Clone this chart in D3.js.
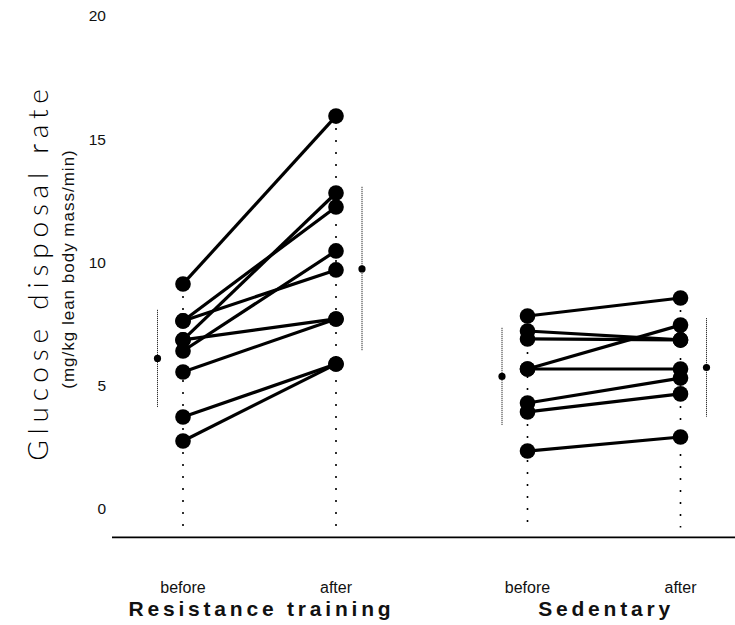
<!DOCTYPE html>
<html>
<head>
<meta charset="utf-8">
<script src="https://cdn.jsdelivr.net/npm/d3@7"></script>
<style>
  html, body { margin: 0; padding: 0; background: #fff; }
  svg { display: block; }
</style>
</head>
<body>
<svg id="chart" width="735" height="625"></svg>
<script>
// Glucose disposal rate, paired before/after measurements per subject
const groups = ["Resistance training", "Sedentary"];
const phases = ["before", "after"];
const yTicks = [0, 5, 10, 15, 20];

const rtBefore  = [9.13, 7.63, 7.63, 6.86, 6.86, 6.41, 5.56, 3.73, 2.76];
const rtAfter   = [15.94, 12.25, 9.70, 7.71, 12.82, 10.47, 7.71, 5.88, 5.88];
const sedBefore = [7.83, 7.22, 6.90, 5.68, 5.68, 4.30, 3.94, 2.35];
const sedAfter  = [8.56, 6.86, 6.86, 7.46, 5.68, 5.31, 4.67, 2.92];

// group mean and standard deviation, [before, after]
const rtMean  = [6.11, 9.74];
const rtSd    = [1.97, 3.33];
const sedMean = [5.38, 5.74];
const sedSd   = [1.97, 2.00];

const svg = d3.select("#chart");

const y = d3.scaleLinear().domain([0, 20]).range([509, 16]);
const xGroup = d3.scalePoint().domain(groups).range([259.5, 604]);
const xPhase = d3.scalePoint().domain(phases).range([-76.5, 76.5]);
const xPos = (g, p) => xGroup(g) + xPhase(p);

const sans = "'Liberation Sans', Arial, sans-serif";

const series = [
  { group: groups[0], before: rtBefore, after: rtAfter, mean: rtMean, sd: rtSd },
  { group: groups[1], before: sedBefore, after: sedAfter, mean: sedMean, sd: sedSd }
];

// y axis: labels only
const yAxis = svg.append("g")
  .attr("transform", "translate(106,0)")
  .call(d3.axisLeft(y).tickValues(yTicks).tickSize(0).tickPadding(0));
yAxis.select(".domain").remove();
yAxis.selectAll("text")
  .attr("font-family", sans)
  .attr("font-size", 15.5)
  .attr("fill", "#111");

// baseline
svg.append("line")
  .attr("x1", 112).attr("x2", 735)
  .attr("y1", y(-1.15)).attr("y2", y(-1.15))
  .attr("stroke", "#000").attr("stroke-width", 1.6);

// dotted guide lines under each column
series.forEach(s => {
  phases.forEach(p => {
    const vals = s[p];
    svg.append("line")
      .attr("x1", xPos(s.group, p)).attr("x2", xPos(s.group, p))
      .attr("y1", y(d3.max(vals))).attr("y2", y(-0.75))
      .attr("stroke", "#000").attr("stroke-width", 1.6)
      .attr("stroke-dasharray", "2,10");
  });
});

// mean ± SD markers beside each column
series.forEach(s => {
  phases.forEach((p, i) => {
    const cx = xPos(s.group, p) + (i === 0 ? -25.5 : 26);
    svg.append("line")
      .attr("x1", cx).attr("x2", cx)
      .attr("y1", y(s.mean[i] + s.sd[i])).attr("y2", y(s.mean[i] - s.sd[i]))
      .attr("stroke", "#000").attr("stroke-width", 1)
      .attr("stroke-dasharray", "1,1");
    svg.append("circle")
      .attr("cx", cx).attr("cy", y(s.mean[i])).attr("r", 3.6)
      .attr("fill", "#000");
  });
});

// subject lines and points
series.forEach(s => {
  const pairs = s.before.map((b, i) => ({ b, a: s.after[i] }));
  svg.append("g").selectAll("line").data(pairs).join("line")
    .attr("x1", xPos(s.group, "before")).attr("y1", d => y(d.b))
    .attr("x2", xPos(s.group, "after")).attr("y2", d => y(d.a))
    .attr("stroke", "#000").attr("stroke-width", 3.2);
  phases.forEach(p => {
    svg.append("g").selectAll("circle").data(s[p]).join("circle")
      .attr("cx", xPos(s.group, p)).attr("cy", d => y(d)).attr("r", 7.8)
      .attr("fill", "#000");
  });
});

// phase labels
groups.forEach(g => {
  phases.forEach(p => {
    svg.append("text")
      .attr("x", xPos(g, p)).attr("y", 593)
      .attr("text-anchor", "middle")
      .attr("font-family", sans).attr("font-size", 16)
      .attr("fill", "#111")
      .text(p);
  });
});

// group titles
svg.append("g").selectAll("text").data(groups).join("text")
  .attr("x", d => xGroup(d) + 2).attr("y", 616)
  .attr("text-anchor", "middle")
  .attr("font-family", sans)
  .attr("font-weight", "bold").attr("font-size", 21)
  .attr("letter-spacing", "3.8px")
  .attr("fill", "#111")
  .text(d => d);

// y axis title
svg.append("text")
  .attr("transform", "translate(48,272) rotate(-90)")
  .attr("text-anchor", "middle")
  .attr("font-family", "Lato, 'Open Sans', sans-serif")
  .attr("font-weight", 300).attr("font-size", 28)
  .attr("letter-spacing", "5.8px")
  .attr("fill", "#000")
  .text("Glucose disposal rate");

svg.append("text")
  .attr("transform", "translate(74,269) rotate(-90)")
  .attr("text-anchor", "middle")
  .attr("font-family", sans).attr("font-size", 17)
  .attr("letter-spacing", "1px")
  .attr("fill", "#111")
  .text("(mg/kg lean body mass/min)");
</script>
</body>
</html>
